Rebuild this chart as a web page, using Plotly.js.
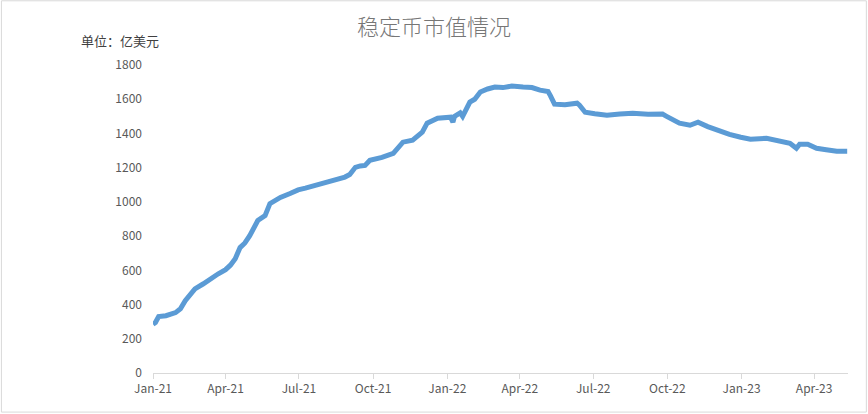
<!DOCTYPE html>
<html>
<head>
<meta charset="utf-8">
<script src="https://cdn.plot.ly/plotly-3.0.1.min.js"></script>
<style>html,body{margin:0;padding:0;background:#fff}#chart{width:868px;height:414px}</style>
</head>
<body>
<div id="chart"></div>
<script>
const dates = [
"2021-01-01","2021-01-04","2021-01-08","2021-01-17","2021-01-29","2021-02-04","2021-02-10","2021-02-16","2021-02-22",
"2021-03-04","2021-03-13","2021-03-23","2021-04-01","2021-04-07","2021-04-13","2021-04-19","2021-04-25","2021-05-01",
"2021-05-11","2021-05-20","2021-05-26","2021-06-08","2021-06-20","2021-06-30","2021-07-09","2021-07-21","2021-08-02",
"2021-08-15","2021-08-27","2021-09-02","2021-09-09","2021-09-15","2021-09-21","2021-09-27","2021-10-12","2021-10-26",
"2021-11-07","2021-11-19","2021-12-01","2021-12-07","2021-12-20","2022-01-05","2022-01-08","2022-01-10","2022-01-17",
"2022-01-20","2022-01-24","2022-01-29","2022-02-04","2022-02-11","2022-02-20","2022-03-01","2022-03-11","2022-03-22",
"2022-04-05","2022-04-16","2022-04-26","2022-05-06","2022-05-09","2022-05-14","2022-05-27","2022-06-11","2022-06-14",
"2022-06-21","2022-07-03","2022-07-18","2022-08-03","2022-08-19","2022-09-07","2022-09-25","2022-09-30","2022-10-06",
"2022-10-16","2022-10-29","2022-11-08","2022-11-20","2022-12-05","2022-12-17","2022-12-31","2023-01-12","2023-02-01",
"2023-02-17","2023-03-02","2023-03-10","2023-03-14","2023-03-24","2023-04-04","2023-04-16","2023-04-29","2023-05-12"
];
const marketCap = [
285,295,330,335,353,375,422,455,492,
520,551,580,604,630,668,733,760,803,
891,920,990,1026,1049,1070,1080,1096,1108,
1125,1145,1160,1202,1210,1213,1243,1260,1284,
1349,1360,1407,1460,1489,1495,1466,1500,1520,
1500,1540,1583,1600,1642,1660,1671,1668,1677,
1671,1668,1653,1645,1620,1571,1568,1577,1565,
1524,1515,1507,1514,1518,1512,1513,1500,1483,
1460,1448,1466,1440,1413,1395,1378,1366,1372,
1360,1343,1313,1337,1337,1313,1305,1296,1296
];
const tickDates = ["2021-01-01","2021-04-01","2021-07-01","2021-10-01","2022-01-01","2022-04-01","2022-07-01","2022-10-01","2023-01-01","2023-04-01"];
const tickLabels = ["Jan-21","Apr-21","Jul-21","Oct-21","Jan-22","Apr-22","Jul-22","Oct-22","Jan-23","Apr-23"];
const yTicks = [0,200,400,600,800,1000,1200,1400,1600,1800];

const fontFam = '"Microsoft YaHei","Noto Sans CJK SC","Noto Sans",sans-serif';

Plotly.newPlot('chart', [{
  x: dates, y: marketCap, type: 'scatter', mode: 'lines',
  line: {color: '#5B9BD5', width: 5, shape: 'linear'},
  hoverinfo: 'x+y'
}], {
  width: 868, height: 414,
  margin: {l: 153, r: 20, t: 65, b: 41},
  paper_bgcolor: '#ffffff', plot_bgcolor: '#ffffff',
  showlegend: false,
  title: {text: '稳定币市值情况', x: 0.5, xanchor: 'center', y: 0.935, yanchor: 'middle', yref: 'container',
    font: {family: fontFam, size: 22, color: '#767676', weight: 300}},
  xaxis: {
    type: 'date', range: ['2021-01-01', '2023-05-13'],
    tickmode: 'array', tickvals: tickDates, ticktext: tickLabels,
    showgrid: false, zeroline: false,
    showline: true, linecolor: '#d9d9d9', linewidth: 1,
    ticks: 'outside', ticklen: 5, tickcolor: '#d9d9d9',
    tickfont: {family: fontFam, size: 12, color: '#595959'}
  },
  yaxis: {
    range: [0, 1800], tickmode: 'array', tickvals: yTicks,
    showgrid: false, zeroline: false, showline: false, ticks: '',
    ticklabelstandoff: 10,
    tickfont: {family: fontFam, size: 12, color: '#595959'}
  },
  annotations: [{
    text: '单位：亿美元', xref: 'paper', yref: 'paper',
    x: -0.0482, y: 1.078, xanchor: 'center', yanchor: 'middle', showarrow: false,
    font: {family: fontFam, size: 13, color: '#404040'}
  }],
  shapes: [{
    type: 'rect', xref: 'paper', yref: 'paper',
    x0: -0.2181, x1: 1.0264, y0: -0.1269, y1: 1.2085,
    line: {color: '#d9d9d9', width: 1}, fillcolor: 'rgba(0,0,0,0)', layer: 'below'
  }]
}, {displayModeBar: false, staticPlot: true});
</script>
</body>
</html>
